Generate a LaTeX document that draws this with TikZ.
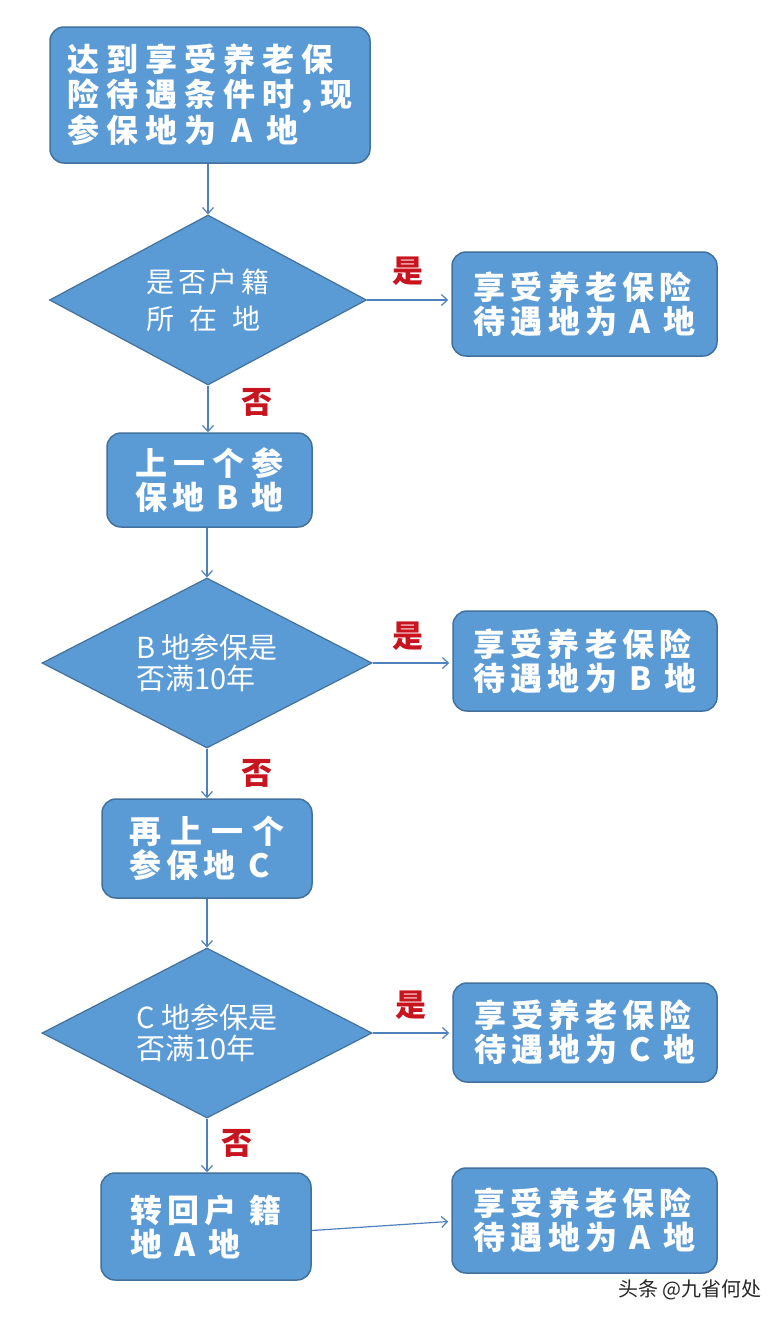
\documentclass[tikz,border=0pt]{standalone}
\usepackage{fontspec}
\usetikzlibrary{shapes.geometric,arrows.meta}
\newfontfamily\cjk{Noto Sans CJK SC}
\newfontfamily\cjksp{Noto Sans CJK SC}[LetterSpace=16]
\newfontfamily\cjkwide{Noto Sans CJK SC}[LetterSpace=22]
\newfontfamily\cjkdia{Noto Sans CJK SC}[LetterSpace=14]
\definecolor{boxfill}{RGB}{91,155,213}
\definecolor{boxline}{RGB}{65,113,156}
\definecolor{arrowc}{RGB}{79,129,189}
\definecolor{labred}{RGB}{200,20,30}
\definecolor{wmark}{RGB}{40,40,40}
\begin{document}
\begin{tikzpicture}[x=1pt,y=-1pt,
  box/.style={draw=boxline, fill=boxfill, line width=1.5pt, rounded corners=14pt,
    text=white, align=left, inner sep=0pt},
  bigtext/.style={font=\cjksp\bfseries\fontsize{32}{34}\selectfont},
  toptext/.style={font=\cjkwide\bfseries\fontsize{32}{35}\selectfont},
  dia/.style={draw=boxline, fill=boxfill, line width=1.2pt, diamond, aspect=1.9,
    text=white, align=left, inner sep=0pt},
  diatext/.style={font=\cjkdia\fontsize{28}{37}\selectfont},
  diatextb/.style={font=\cjk\fontsize{29}{31}\selectfont},
  arr/.style={draw=arrowc, line width=1.2pt, -{Straight Barb[length=6pt,width=11pt]}},
  lab/.style={text=labred, font=\cjk\bfseries\fontsize{31}{32}\selectfont, inner sep=0pt},
]
\useasboundingbox (0,0) rectangle (780,1318);
\fill[white] (0,0) rectangle (780,1318);

% nodes
\node[box, toptext, minimum width=320pt, minimum height=136pt] (top) at (210,95)
  {达到享受养老保\\险待遇条件时,现\\参保地为 A 地};
\node[dia, diatext, minimum width=317pt, minimum height=170pt] (d1) at (208,300)
  {是否户籍\\所\hspace{15pt}在\hspace{15pt}地};
\node[box, bigtext, minimum width=265pt, minimum height=104pt] (r1) at (584.5,304)
  {享受养老保险\\待遇地为 A 地};

\node[box, bigtext, minimum width=205pt, minimum height=94pt] (b2) at (209.5,480)
  {上\hspace{7pt}一\hspace{7pt}个\hspace{7pt}参\\保地 B 地};
\node[dia, diatextb, minimum width=330pt, minimum height=170pt] (d2) at (207,663)
  {B 地参保是\\否满10年};
\node[box, bigtext, minimum width=264pt, minimum height=100pt] (r2) at (585,661)
  {享受养老保险\\待遇地为 B 地};

\node[box, bigtext, minimum width=210pt, minimum height=99pt] (b3) at (207,848.5)
  {再\hspace{9pt}上\hspace{9pt}一\hspace{9pt}个\\参保地 C};
\node[dia, diatextb, minimum width=330pt, minimum height=170pt] (d3) at (207,1033)
  {C 地参保是\\否满10年};
\node[box, bigtext, minimum width=264pt, minimum height=99pt] (r3) at (585,1032.5)
  {享受养老保险\\待遇地为 C 地};

\node[box, bigtext, minimum width=210pt, minimum height=107pt] (b4) at (206,1226.5)
  {转\hspace{5pt}回\hspace{5pt}户\hspace{13pt}籍\\地 A 地};
\node[box, bigtext, minimum width=265pt, minimum height=105pt] (r4) at (584.5,1220.5)
  {享受养老保险\\待遇地为 A 地};

% connectors
\draw[arr] (top.south -| d1.north) -- (d1.north);
\draw[arr] (d1.east) -- ([xshift=-3pt]r1.west |- d1.east);
\draw[arr] (d1.south) -- (d1.south |- b2.north);
\draw[arr] (b2.south -| d2.north) -- (d2.north);
\draw[arr] (d2.east) -- ([xshift=-3pt]r2.west |- d2.east);
\draw[arr] (d2.south) -- (d2.south |- b3.north);
\draw[arr] (b3.south -| d3.north) -- (d3.north);
\draw[arr] (d3.east) -- ([xshift=-3pt]r3.west |- d3.east);
\draw[arr] (d3.south) -- (d3.south |- b4.north);
\draw[arr] ([yshift=-4pt]b4.east) -- ([xshift=-3pt,yshift=-1pt]r4.west);

% labels
\node[lab] (y1) at (408,271) {是};
\node[lab] (n1) at (257,402) {否};
\node[lab] (y2) at (408,636) {是};
\node[lab] (n2) at (257,773) {否};
\node[lab] (y3) at (411,1005) {是};
\node[lab] (n3) at (237,1143) {否};

% watermark
\node[anchor=east, text=wmark, font=\cjk\fontsize{20}{22}\selectfont, inner sep=0pt] (wm) at (762,1290)
  {头条 @九省何处};
\end{tikzpicture}
\end{document}
